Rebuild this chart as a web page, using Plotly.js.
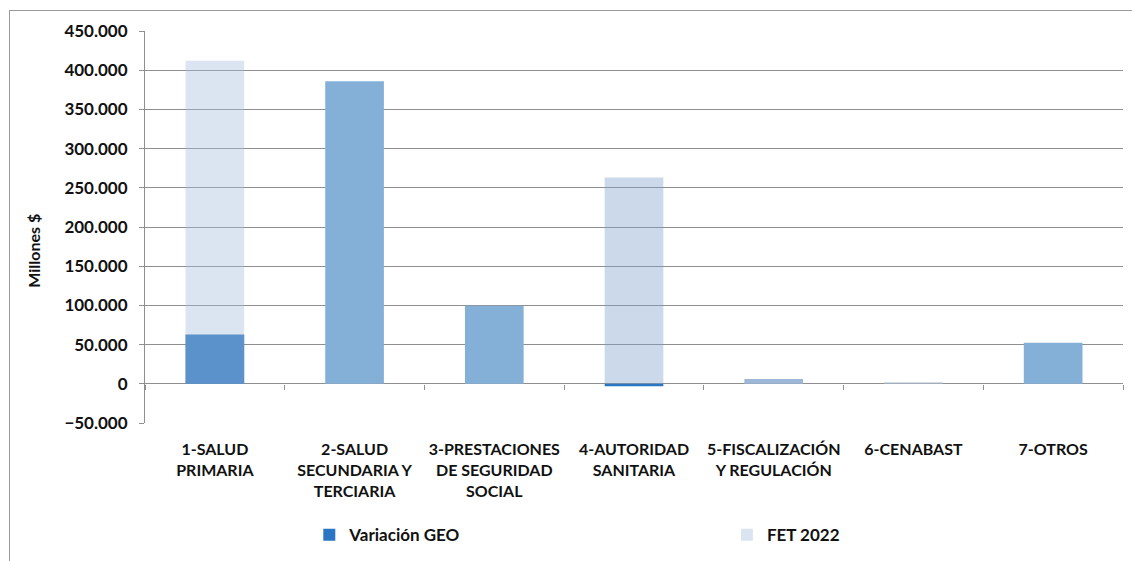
<!DOCTYPE html>
<html>
<head>
<meta charset="utf-8">
<script src="https://cdn.plot.ly/plotly-3.0.1.min.js"></script>
<style>
  html, body { margin: 0; padding: 0; background: #fff; overflow: hidden; }
  #frame { position: absolute; left: 9px; top: 10px; width: 1300px; height: 700px;
           border: 1px solid #9a9a9a; pointer-events: none; }
  #chart { position: absolute; left: 0; top: 0; width: 1132px; height: 561px; }
</style>
</head>
<body>
<div id="chart"></div>
<div id="frame"></div>
<script>
// ---- data ----
const categories = [
  "1-SALUD<br>PRIMARIA",
  "2-SALUD<br>SECUNDARIA Y<br>TERCIARIA",
  "3-PRESTACIONES<br>DE SEGURIDAD<br>SOCIAL",
  "4-AUTORIDAD<br>SANITARIA",
  "5-FISCALIZACIÓN<br>Y REGULACIÓN",
  "6-CENABAST",
  "7-OTROS"
];
const variacionGEO = [63000, null, null, -3000, null, null, null];
const fet2022      = [412000, null, null, 263000, null, null, null];
const otrosMontos  = [null, 386000, 99500, null, 6000, 1500, 52500];

const seriesNames = ["Variación GEO", "FET 2022"];
const yTickVals = [-50000, 0, 50000, 100000, 150000, 200000, 250000, 300000, 350000, 400000, 450000];
const yTitle = "Millones $";

// ---- styles ----
const FONT = "Lato, 'Open Sans', sans-serif";
const GRID = "#8f8f8f";

const traces = [
  {
    type: "bar", name: "", x: categories, y: otrosMontos,
    xaxis: "x2", yaxis: "y",
    width: 0.42, showlegend: false, hoverinfo: "x+y",
    marker: { color: ["#84b0d8", "#84b0d8", "#84b0d8", "#84b0d8", "#9db8d6", "#aab9c8", "#84b0d8"] }
  },
  {
    type: "bar", name: seriesNames[0], x: categories, y: variacionGEO,
    width: 0.42, legend: "legend",
    marker: { color: "#2a76c2" }
  },
  {
    type: "bar", name: seriesNames[1], x: categories, y: fet2022,
    width: 0.42, legend: "legend2",
    marker: { color: ["rgba(165,190,220,0.4)", "rgba(165,190,220,0.4)", "rgba(165,190,220,0.4)",
                      "rgba(128,160,203,0.4)", "rgba(165,190,220,0.4)", "rgba(165,190,220,0.4)",
                      "rgba(165,190,220,0.4)"] }
  }
];

const legendFont = { family: FONT, size: 17, color: "#111", weight: "bold" };

const layout = {
  width: 1132, height: 561,
  margin: { l: 145, r: 9, t: 31, b: 137 },
  paper_bgcolor: "rgba(0,0,0,0)",
  plot_bgcolor: "rgba(0,0,0,0)",
  barmode: "overlay",
  separators: ",.",
  font: { family: FONT, size: 16, color: "#111" },
  xaxis: {
    type: "category",
    showgrid: false, showline: false, zeroline: false,
    ticks: "", tickfont: { family: FONT, size: 16, color: "#111", weight: "bold" },
    ticklabelstandoff: 15,
    automargin: false,
    fixedrange: true
  },
  xaxis2: {
    type: "category", overlaying: "x", anchor: "free", position: 0.1, side: "bottom",
    showticklabels: false, showgrid: false, showline: false, zeroline: false,
    ticks: "outside", tickson: "boundaries", ticklen: 5, tickcolor: GRID, tickwidth: 1,
    fixedrange: true
  },
  yaxis: {
    range: [-50000, 450000],
    tickmode: "array", tickvals: yTickVals,
    tickformat: ",d",
    showgrid: true, gridcolor: GRID, gridwidth: 1,
    showline: true, linecolor: GRID, linewidth: 1,
    zeroline: true, zerolinecolor: GRID, zerolinewidth: 1,
    ticks: "outside", ticklen: 5, tickcolor: GRID,
    ticklabelstandoff: 8,
    automargin: false,
    tickfont: { family: FONT, size: 17, color: "#111", weight: "bold" },
    fixedrange: true
  },
  annotations: [{
    text: yTitle, textangle: -90, showarrow: false,
    xref: "paper", yref: "paper", x: -0.114, y: 0.438,
    xanchor: "center", yanchor: "middle",
    font: { family: FONT, size: 16, color: "#111", weight: "bold" }
  }],
  legend: {
    orientation: "h",
    x: 0.168, xanchor: "left",
    y: -0.283, yanchor: "middle",
    font: legendFont,
    itemclick: false, itemdoubleclick: false,
    bgcolor: "rgba(0,0,0,0)"
  },
  legend2: {
    orientation: "h",
    x: 0.595, xanchor: "left",
    y: -0.283, yanchor: "middle",
    font: legendFont,
    itemclick: false, itemdoubleclick: false,
    bgcolor: "rgba(0,0,0,0)"
  },
  showlegend: true
};

Plotly.newPlot("chart", traces, layout, { displayModeBar: false, staticPlot: true });
</script>
</body>
</html>
